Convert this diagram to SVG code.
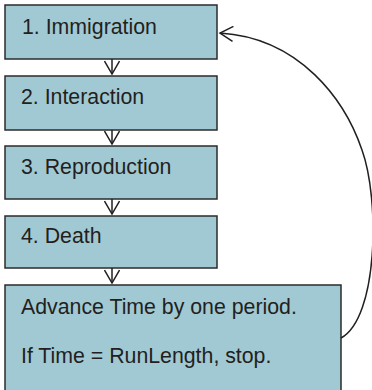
<svg xmlns="http://www.w3.org/2000/svg" width="372" height="390" viewBox="0 0 372 390">
<defs>
<marker id="v" markerWidth="16" markerHeight="16" refX="14" refY="8" orient="auto" markerUnits="userSpaceOnUse">
<path d="M1,0.5 L14,8 L1,15.5" fill="none" stroke="#231f20" stroke-width="1.5"/>
</marker>
</defs>
<style>
.box{fill:#a1c9d3;stroke:#2b2b2b;stroke-width:1.5}
.t{font-family:"Liberation Sans",Arial,sans-serif;font-size:21.3px;fill:#231f20}
.c{fill:none;stroke:#231f20;stroke-width:1.5}
</style>
<rect width="372" height="390" fill="#ffffff"/>
<g id="n1"><rect class="box" x="5" y="5" width="212" height="54"/><text class="t" x="22" y="34">1. Immigration</text></g>
<g id="n2"><rect class="box" x="5" y="76" width="212" height="54"/><text class="t" x="21" y="104">2. Interaction</text></g>
<g id="n3"><rect class="box" x="5" y="146" width="212" height="53"/><text class="t" x="21" y="174">3. Reproduction</text></g>
<g id="n4"><rect class="box" x="5" y="216" width="212" height="52"/><text class="t" x="21" y="243">4. Death</text></g>
<g id="n5"><rect class="box" x="5" y="285" width="336" height="115"/><text class="t" x="21" y="314">Advance Time by one period.</text><text class="t" x="21" y="363">If Time = RunLength, stop.</text></g>
<g id="connectors">
<path class="c" d="M112,59 L112,74" marker-end="url(#v)"/>
<path class="c" d="M112,130 L112,144" marker-end="url(#v)"/>
<path class="c" d="M112,199 L112,214" marker-end="url(#v)"/>
<path class="c" d="M112,268 L112,283" marker-end="url(#v)"/>
<path class="c" d="M341,338 C378,318 380,200 362,150 C345,100 300,38 220,33" marker-end="url(#v)"/>
</g>
</svg>
